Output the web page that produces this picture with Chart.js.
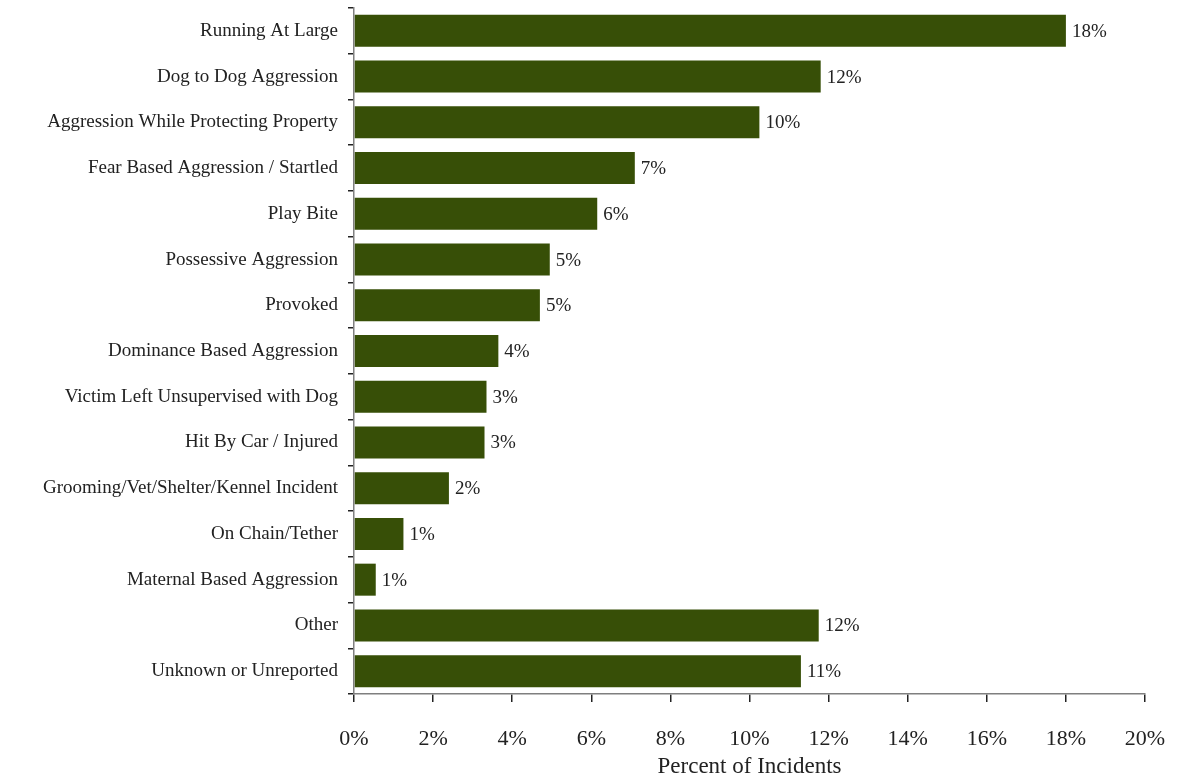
<!DOCTYPE html>
<html>
<head>
<meta charset="utf-8">
<script src="https://cdn.jsdelivr.net/npm/chart.js@4.4.1/dist/chart.umd.min.js"></script>
<style>
  html, body { margin: 0; padding: 0; background: #fff; }
  #wrap { width: 1180px; height: 781px; }
</style>
</head>
<body>
<div id="wrap"><canvas id="chart" width="1180" height="781"></canvas></div>
<script>
// Reasons behind reported incidents, share of all incidents (%)
const reasons = [
    "Running At Large",
    "Dog to Dog Aggression",
    "Aggression While Protecting Property",
    "Fear Based Aggression / Startled",
    "Play Bite",
    "Possessive Aggression",
    "Provoked",
    "Dominance Based Aggression",
    "Victim Left Unsupervised with Dog",
    "Hit By Car / Injured",
    "Grooming/Vet/Shelter/Kennel Incident",
    "On Chain/Tether",
    "Maternal Based Aggression",
    "Other",
    "Unknown or Unreported"
];
const percents = [18.0, 11.8, 10.25, 7.1, 6.15, 4.95, 4.7, 3.65, 3.35, 3.3, 2.4, 1.25, 0.55, 11.75, 11.3];
const xTicks = [0, 2, 4, 6, 8, 10, 12, 14, 16, 18, 20];

const serif = "'Liberation Serif', 'DejaVu Serif', serif";
const textColor = "#222";
const axisColor = "#7f7f7f";

// writes the rounded percent just past the end of each bar
const valueLabels = {
    id: "valueLabels",
    afterDatasetsDraw(chart) {
        const ctx = chart.ctx;
        const meta = chart.getDatasetMeta(0);
        ctx.save();
        ctx.font = "19px " + serif;
        ctx.fillStyle = textColor;
        ctx.textAlign = "left";
        ctx.textBaseline = "middle";
        meta.data.forEach((bar, i) => {
            ctx.fillText(Math.round(percents[i]) + "%", bar.x + 6, bar.y + 1);
        });
        ctx.restore();
    }
};

new Chart(document.getElementById("chart").getContext("2d"), {
    type: "bar",
    data: {
        labels: reasons,
        datasets: [{
            data: percents,
            backgroundColor: "#374f07",
            borderWidth: 0,
            barPercentage: 0.7,
            categoryPercentage: 1.0
        }]
    },
    options: {
        indexAxis: "y",
        responsive: false,
        animation: false,
        layout: { padding: { top: 8, right: 35, bottom: 0, left: 0 } },
        plugins: {
            legend: { display: false },
            tooltip: { enabled: false }
        },
        scales: {
            x: {
                min: 0,
                max: 20,
                afterBuildTicks: scale => {
                    scale.ticks = xTicks.map(v => ({ value: v }));
                },
                afterFit: scale => {
                    scale.height = 87;
                    scale.paddingLeft = 0;
                    scale.paddingRight = 0;
                },
                border: { color: axisColor, width: 1.5 },
                grid: {
                    drawOnChartArea: false,
                    drawTicks: true,
                    tickLength: 8,
                    color: "#222",
                    lineWidth: 1.5
                },
                ticks: {
                    padding: 24,
                    color: textColor,
                    font: { family: serif, size: 22 },
                    callback: v => v + "%"
                },
                title: {
                    display: true,
                    text: "Percent of Incidents",
                    color: textColor,
                    font: { family: serif, size: 23 },
                    padding: { top: 2, bottom: 0 }
                }
            },
            y: {
                afterFit: scale => {
                    scale.width = 354;
                    scale.paddingTop = 0;
                    scale.paddingBottom = 0;
                },
                border: { color: axisColor, width: 1.5 },
                grid: {
                    offset: true,
                    drawOnChartArea: false,
                    drawTicks: true,
                    tickLength: 6,
                    color: "#222",
                    lineWidth: 1.5
                },
                ticks: {
                    padding: 10,
                    color: textColor,
                    font: { family: serif, size: 19 },
                    autoSkip: false
                }
            }
        }
    },
    plugins: [valueLabels]
});
</script>
</body>
</html>
